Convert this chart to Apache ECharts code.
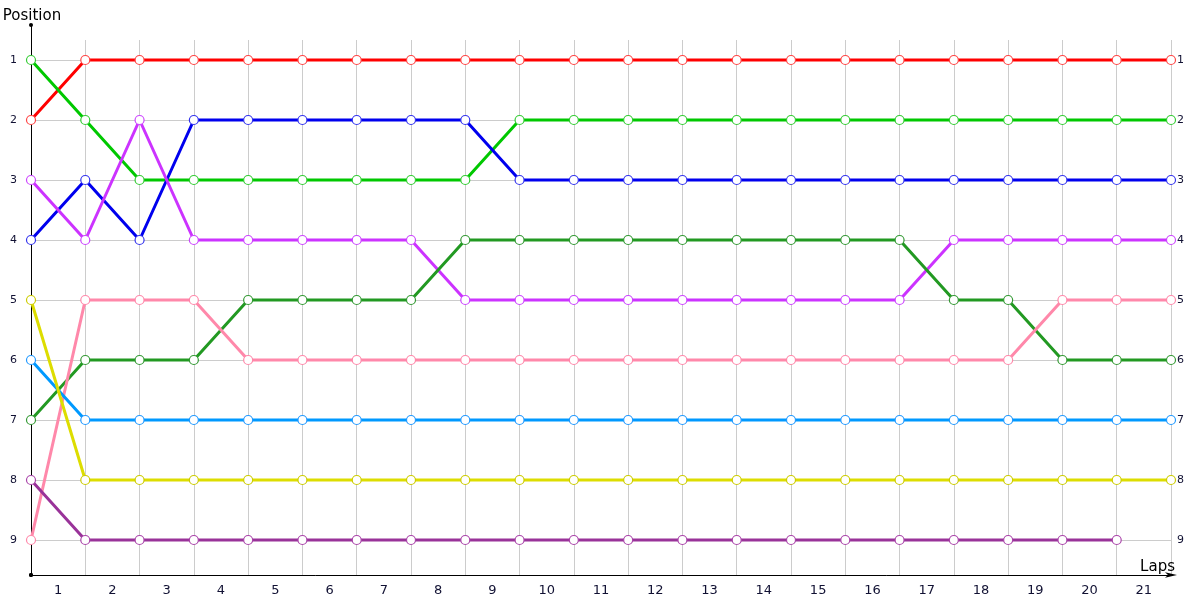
<!DOCTYPE html>
<html>
<head>
<meta charset="utf-8">
<script src="https://cdn.jsdelivr.net/npm/echarts@6/dist/echarts.min.js"></script>
<style>html,body{margin:0;padding:0;background:#fff}#c{width:1200px;height:600px}</style>
</head>
<body>
<div id="c"></div>
<script>
var lapLabels = ['1','2','3','4','5','6','7','8','9','10','11','12','13','14','15','16','17','18','19','20','21'];
var positionTicks = [1,2,3,4,5,6,7,8,9];
var redPos       = [2,1,1,1,1,1,1,1,1,1,1,1,1,1,1,1,1,1,1,1,1,1];
var greenPos     = [1,2,3,3,3,3,3,3,3,2,2,2,2,2,2,2,2,2,2,2,2,2];
var bluePos      = [4,3,4,2,2,2,2,2,2,3,3,3,3,3,3,3,3,3,3,3,3,3];
var violetPos    = [3,4,2,4,4,4,4,4,5,5,5,5,5,5,5,5,5,4,4,4,4,4];
var darkGreenPos = [7,6,6,6,5,5,5,5,4,4,4,4,4,4,4,4,4,5,5,6,6,6];
var pinkPos      = [9,5,5,5,6,6,6,6,6,6,6,6,6,6,6,6,6,6,6,5,5,5];
var skyPos       = [6,7,7,7,7,7,7,7,7,7,7,7,7,7,7,7,7,7,7,7,7,7];
var yellowPos    = [5,8,8,8,8,8,8,8,8,8,8,8,8,8,8,8,8,8,8,8,8,8];
var plumPos      = [8,9,9,9,9,9,9,9,9,9,9,9,9,9,9,9,9,9,9,9,9];

var seriesDefs = [
  {name:'A', data: redPos, color:'#ff0000', border:'#ff4444'},
  {name:'B', data: greenPos, color:'#00c800', border:'#33cc33'},
  {name:'C', data: bluePos, color:'#0000ee', border:'#3333ee'},
  {name:'D', data: violetPos, color:'#cc33ff', border:'#cc44ff'},
  {name:'E', data: darkGreenPos, color:'#229922', border:'#339933'},
  {name:'F', data: pinkPos, color:'#ff88aa', border:'#ff88aa'},
  {name:'G', data: skyPos, color:'#0099ff', border:'#2299ff'},
  {name:'H', data: yellowPos, color:'#dddd00', border:'#cccc00'},
  {name:'I', data: plumPos, color:'#993399', border:'#aa44aa'}
];

var chart = echarts.init(document.getElementById('c'));
var labelFont = '"DejaVu Sans", sans-serif';
var option = {
  animation: false,
  backgroundColor: '#fff',
  grid: [
    {left: 31, right: 29, top: 40, bottom: 25, containLabel: false, outerBoundsMode: 'none'},
    {left: 31, right: 29, top: 25, bottom: 25, containLabel: false, outerBoundsMode: 'none'}
  ],
  xAxis: [
    {gridIndex: 0, type: 'value', min: 0, max: 21, interval: 1,
     axisLine: {show: false}, axisTick: {show: false}, axisLabel: {show: false},
     splitLine: {show: true, lineStyle: {color: '#cccccc', width: 1}}},
    {gridIndex: 1, type: 'category', data: lapLabels, boundaryGap: true,
     axisLine: {show: true, symbol: ['circle', 'arrow'], symbolSize: [4, 12], symbolOffset: [0, 6],
                lineStyle: {color: '#000', width: 1}},
     axisTick: {show: false}, splitLine: {show: false},
     axisLabel: {color: '#111133', fontSize: 13, margin: 9, fontFamily: labelFont, interval: 0},
     name: 'Laps', nameLocation: 'end', nameGap: 4,
     nameTextStyle: {color: '#000', fontSize: 15, fontFamily: labelFont, align: 'right', verticalAlign: 'bottom', padding: [0, 0, 0, 0]}}
  ],
  yAxis: [
    {gridIndex: 0, type: 'value', inverse: true, min: 1 - 20/60, max: 9 + 35/60,
     axisLine: {show: false},
     axisTick: {show: false, customValues: positionTicks},
     axisLabel: {show: true, customValues: positionTicks, color: '#111133', fontSize: 11, margin: 14, fontFamily: labelFont},
     splitLine: {show: true, lineStyle: {color: '#cccccc', width: 1}}},
    {gridIndex: 0, type: 'value', inverse: true, position: 'right', min: 1 - 20/60, max: 9 + 35/60,
     axisLine: {show: false},
     axisTick: {show: false, customValues: positionTicks},
     axisLabel: {show: true, customValues: positionTicks, color: '#111133', fontSize: 11, margin: 6, fontFamily: labelFont},
     splitLine: {show: false}},
    {gridIndex: 1, type: 'value', min: 0, max: 1,
     axisLine: {show: true, symbol: ['circle', 'circle'], symbolSize: [4, 4], lineStyle: {color: '#000', width: 1}},
     axisTick: {show: false}, axisLabel: {show: false}, splitLine: {show: false},
     name: 'Position', nameLocation: 'end', nameGap: 1,
     nameTextStyle: {color: '#000', fontSize: 15, fontFamily: labelFont, align: 'center', verticalAlign: 'bottom', padding: [0, 0, 0, 2]}}
  ],
  series: seriesDefs.map(function (s) {
    return {
      name: s.name, type: 'line', xAxisIndex: 0, yAxisIndex: 0,
      data: s.data.map(function (v, i) { return [i, v]; }),
      symbol: 'circle', symbolSize: 9, showSymbol: true,
      lineStyle: {color: s.color, width: 3},
      itemStyle: {color: '#ffffff', borderColor: s.border, borderWidth: 1.2},
      emphasis: {disabled: true},
      clip: false
    };
  })
};
chart.setOption(option);
</script>
</body>
</html>
